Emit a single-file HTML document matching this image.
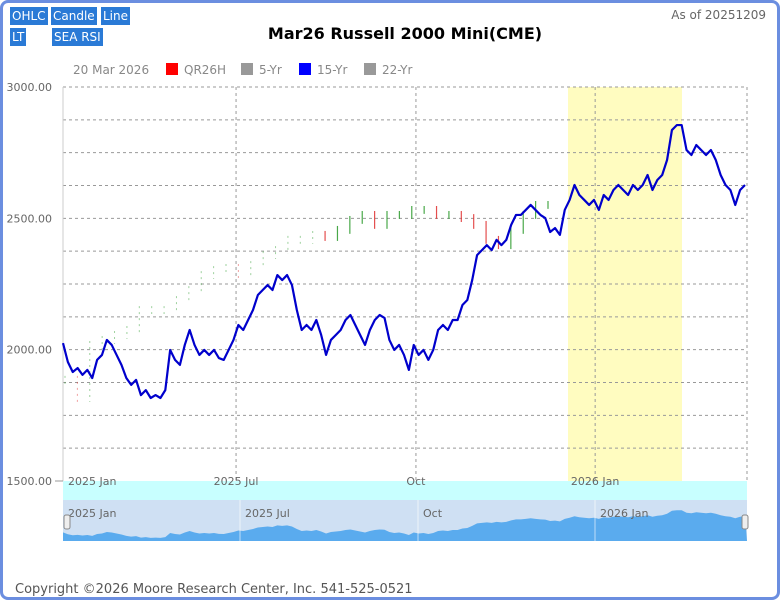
<!DOCTYPE html>
<html><head><meta charset="utf-8"><style>
body{margin:0;width:780px;height:600px;overflow:hidden;background:#fff;font-family:"DejaVu Sans","Liberation Sans",sans-serif}
#frame{position:absolute;left:0;top:0;width:774px;height:594px;border:3px solid #6b8ee0;border-radius:8px;background:#fff}
.btn{position:absolute;background:#2a7ad6;color:#fff;font-size:12px;padding:1px 2px;height:16px;line-height:16px}
</style></head><body>
<div id="frame"></div>
<div class="btn" style="left:10px;top:7px">OHLC</div>
<div class="btn" style="left:51px;top:7px">Candle</div>
<div class="btn" style="left:101px;top:7px">Line</div>
<div class="btn" style="left:10px;top:28px">LT</div>
<div class="btn" style="left:52px;top:28px">SEA RSI</div>
<svg id="c" width="780" height="600" style="position:absolute;left:0;top:0">
<text x="405" y="39" text-anchor="middle" font-size="16" font-weight="bold" fill="#000">Mar26 Russell 2000 Mini(CME)</text>
<text x="766" y="19" text-anchor="end" font-size="12" fill="#666">As of 20251209</text>
<g font-size="12" fill="#888">
<text x="73" y="74">20 Mar 2026</text>
<rect x="166" y="63" width="12" height="12" fill="#f00"/><text x="184" y="74">QR26H</text>
<rect x="241" y="63" width="12" height="12" fill="#999"/><text x="259" y="74">5-Yr</text>
<rect x="299" y="63" width="12" height="12" fill="#00f"/><text x="317" y="74">15-Yr</text>
<rect x="364" y="63" width="12" height="12" fill="#999"/><text x="382" y="74">22-Yr</text>
</g>
<rect x="568" y="87" width="114" height="394" fill="#fffcc0"/>
<rect x="63" y="481" width="684" height="19" fill="#c8ffff"/>
<rect x="63" y="500" width="684" height="41" fill="#cfe0f3"/>
<g id="grid"></g>
<g id="marks"></g>
<g id="nav"></g>
<text x="15" y="593" font-size="13" fill="#555">Copyright ©2026 Moore Research Center, Inc. 541-525-0521</text>
</svg>
<script>
const yTicks=[3000,2500,2000,1500];
const xTickLabels=["2025 Jan","2025 Jul","Oct","2026 Jan"];
const xTickPos=[0,0.253,0.516,0.778];
const avg15=[2025,1953,1915,1930,1904,1923,1892,1961,1980,2037,2018,1980,1942,1892,1866,1885,1827,1846,1816,1827,1816,1846,1999,1961,1942,2018,2075,2018,1980,1999,1980,1999,1968,1961,1999,2037,2094,2075,2113,2151,2208,2227,2246,2227,2284,2265,2284,2246,2151,2075,2094,2075,2113,2056,1980,2037,2056,2075,2113,2132,2094,2056,2018,2075,2113,2132,2121,2037,1999,2018,1980,1923,2018,1980,1999,1961,1999,2075,2094,2075,2113,2113,2170,2189,2265,2360,2379,2398,2379,2418,2398,2418,2475,2513,2513,2532,2551,2532,2513,2501,2448,2463,2437,2532,2570,2627,2589,2570,2551,2570,2532,2589,2570,2608,2627,2608,2589,2627,2608,2627,2665,2608,2646,2665,2722,2836,2855,2855,2760,2741,2779,2760,2741,2760,2722,2665,2627,2608,2551,2608,2627];
const qrClose=[1885,1816,2018,2037,2056,2075,2151,2151,2151,2189,2227,2284,2303,2311,2284,2322,2360,2379,2418,2418,2437,2429,2456,2494,2513,2475,2513,2513,2532,2532,2513,2513,2501,2475,2418,2398,2456,2513,2551,2551];
const svgNS="http://www.w3.org/2000/svg";
const X0=63,X1=747,Y0=87,Y1=481;
const yS=v=>Y0+(3000-v)/1500*(Y1-Y0);
function mk(t,a,p){const e=document.createElementNS(svgNS,t);for(const k in a)e.setAttribute(k,a[k]);(p||document.getElementById('marks')).appendChild(e);return e;}
const grid=document.getElementById('grid');
for(let i=1;i<=12;i++){const v=1500+i*125,y=yS(v);
 const l=mk('line',{x1:X0,x2:X1,y1:y,y2:y,stroke:'#999','stroke-dasharray':'3,3'},grid);
 
 }
yTicks.forEach(v=>{const t=mk('text',{x:52,y:yS(v)+4,'text-anchor':'end','font-size':11,fill:'#666'},grid);t.textContent=v.toFixed(2);
 
 });
mk('line',{x1:X0,x2:X0,y1:Y0,y2:Y1,stroke:'#ccc'},grid);
mk('line',{x1:55,x2:X0,y1:Y1,y2:Y1,stroke:'#999'},grid);
xTickPos.forEach((p,i)=>{const x=X0+p*(X1-X0);
 if(i>0){const l=mk('line',{x1:x,x2:x,y1:Y0,y2:Y1,stroke:'#999','stroke-dasharray':'3,3'},grid);
 
 }
 const t=mk('text',{x:i==0?68:x,y:485,'text-anchor':i==0?'start':'middle','font-size':11,fill:'#666'},grid);t.textContent=xTickLabels[i];
 
 });
mk('line',{x1:X1,x2:X1,y1:Y0,y2:Y1,stroke:'#999','stroke-dasharray':'3,3'},grid);
const cx0=65,cx1=548;
qrClose.forEach((c,i)=>{const o=i?qrClose[i-1]:c;const x=cx0+i*(cx1-cx0)/(qrClose.length-1);
 const up=c>=o;const faint=x<320;
 const hi=Math.max(o,c)+15,lo=Math.min(o,c)-15;
 const b=mk('line',{x1:x,x2:x,y1:yS(hi),y2:yS(lo),stroke:up?'#2a9a2a':'#e03030','stroke-width':faint?1:1.2,opacity:faint?0.45:0.85,'stroke-dasharray':faint?'2,4':'none'});
 
 });
const n=avg15.length;const xI=i=>X0+i*(745-X0)/(n-1);
const pl=mk('polyline',{points:avg15.map((v,i)=>xI(i)+','+yS(v)).join(' '),fill:'none',stroke:'#0000cc','stroke-width':2.2,'stroke-linejoin':'round'});


const nav=document.getElementById('nav');
const nY=v=>541-(v-1700)/(2900-1700)*32;
const ap=mk('polygon',{points:'63,541 '+avg15.map((v,i)=>xI(i)+','+nY(v)).join(' ')+' 747,541',fill:'#5aabee'},nav);


[68,245,423,600].forEach((x,i)=>{if(i>0)mk('line',{x1:x-5,x2:x-5,y1:500,y2:541,stroke:'#fff','stroke-opacity':0.6},nav);
 const t=mk('text',{x:x,y:517,'font-size':11,fill:'#666'},nav);t.textContent=xTickLabels[i];
 
 });
[[64,515],[742,515]].forEach(p=>{const h=mk('rect',{x:p[0],y:p[1],width:6,height:14,rx:2,fill:'#eee',stroke:'#888'},nav);
 
 });
</script>
</body></html>
